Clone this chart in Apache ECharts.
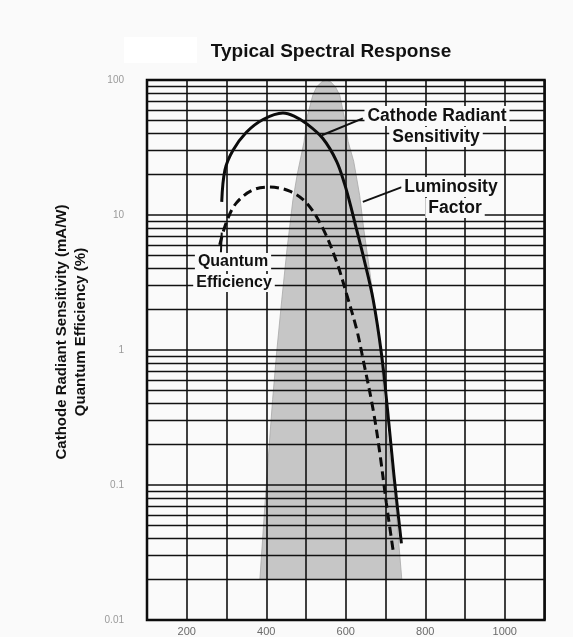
<!DOCTYPE html>
<html>
<head>
<meta charset="utf-8">
<script src="https://cdn.jsdelivr.net/npm/echarts@6/dist/echarts.min.js"></script>
<style>
html,body{margin:0;padding:0;background:#fafafa;}
#chart{width:573px;height:637px;}
</style>
</head>
<body>
<div id="chart"></div>
<script>
// ---- data ----
var xTickLabels = ['200', '400', '600', '800', '1000'];
var yTickLabels = ['0.01', '0.1', '1', '10', '100'];

// Cathode Radiant Sensitivity (mA/W) - solid
var crsX = [288, 296, 316, 350, 392, 442, 470, 502, 542, 577, 597, 611, 628, 645, 669, 690, 705, 721, 740];
var crsY = [12.5, 21.5, 30, 41, 51, 57, 54, 47.3, 37, 25, 17.0, 12.1, 7.65, 4.83, 2.36, 0.93, 0.363, 0.12, 0.037];

// Quantum Efficiency (%) - dashed
var qeX = [283, 300, 325, 366, 409, 459, 501, 542, 577, 602, 628, 644, 669, 686, 702, 719];
var qeY = [6.0, 8.9, 12.3, 15.3, 16.1, 15.0, 12.3, 8.0, 4.5, 2.6, 1.4, 0.84, 0.36, 0.17, 0.074, 0.033];

// Luminosity Factor - shaded outline (left edge going up, right edge going down)
var lumX = [384, 400, 416, 426, 439, 452, 467, 478, 495, 504, 517, 527, 540, 551, 562, 574, 585, 597, 606, 620, 635, 645, 660, 686, 702, 723, 741];
var lumY = [0.02, 0.1, 0.43, 0.95, 2.35, 5.5, 12.9, 20, 34.7, 55, 77, 89, 97, 100, 97, 89, 77, 52, 35, 25, 14, 8, 3.9, 1.05, 0.27, 0.087, 0.02];

// log-paper minor grid values
var minorGrid = [];
[0.01, 0.1, 1, 10].forEach(function (d) {
  for (var m = 2; m <= 9; m++) minorGrid.push(+(d * m).toPrecision(3));
});

function pairs(xs, ys) { return xs.map(function (x, i) { return [x, ys[i]]; }); }

var chart = echarts.init(document.getElementById('chart'));
var FONT = 'Liberation Sans, Arial, sans-serif';

var option = {
  backgroundColor: '#fafafa',
  animation: false,
  grid: { left: 147, right: 28.5, top: 80, bottom: 16, show: true, borderColor: '#000', borderWidth: 2.5, backgroundColor: 'transparent' },
  xAxis: {
    type: 'value', min: 100, max: 1100, interval: 100,
    axisLine: { show: false }, axisTick: { show: false },
    splitLine: { show: true, lineStyle: { color: '#111', width: 1.6 } },
    axisLabel: {
      margin: 6, color: '#6a6a6a', fontSize: 11, fontFamily: FONT,
      formatter: function (v) { return xTickLabels.indexOf(String(v)) >= 0 ? String(v) : ''; }
    }
  },
  yAxis: {
    type: 'log', min: 0.01, max: 100, logBase: 10,
    axisLine: { show: false }, axisTick: { show: false },
    splitLine: { show: true, lineStyle: { color: '#111', width: 1.6 } },
    axisLabel: {
      margin: 23, color: '#9a9a9a', fontSize: 10, fontFamily: FONT,
      formatter: function (v) {
        for (var i = 0; i < yTickLabels.length; i++) if (Math.abs(parseFloat(yTickLabels[i]) - v) / v < 1e-6) return yTickLabels[i];
        return '';
      }
    }
  },
  series: [
    {
      type: 'custom', name: 'Luminosity Factor', z: -1, silent: true,
      data: pairs(lumX, lumY),
      renderItem: function (params, api) {
        if (params.dataIndex !== 0) return null;
        var pts = lumX.map(function (x, i) { return api.coord([x, lumY[i]]); });
        return { type: 'polygon', shape: { points: pts }, style: { fill: '#c6c6c6', stroke: '#a8a8a8', lineWidth: 0.8 } };
      }
    },
    {
      type: 'line', name: 'grid', z: 1, data: [], silent: true,
      markLine: {
        silent: true, symbol: ['none', 'none'], label: { show: false }, animation: false,
        lineStyle: { color: '#111', width: 1.4, type: 'solid' },
        emphasis: { disabled: true },
        data: minorGrid.map(function (v) { return { yAxis: v }; })
      }
    },
    {
      type: 'line', name: 'Cathode Radiant Sensitivity', z: 3, smooth: 0.35, showSymbol: false, silent: true,
      data: pairs(crsX, crsY),
      lineStyle: { color: '#0c0c0c', width: 3 }
    },
    {
      type: 'line', name: 'Quantum Efficiency', z: 3, smooth: 0.35, showSymbol: false, silent: true,
      data: pairs(qeX, qeY),
      lineStyle: { color: '#0c0c0c', width: 3, type: [9, 5] }
    }
  ]
};
chart.setOption(option);

function px(p) { return chart.convertToPixel({ gridIndex: 0 }, p); }
function leader(a, b) {
  var p = px(a), q = px(b);
  return { type: 'line', z: 10, shape: { x1: p[0], y1: p[1], x2: q[0], y2: q[1] }, style: { stroke: '#111', lineWidth: 2 } };
}
function label(text, x, y, size) {
  return {
    type: 'text', z: 11, x: x, y: y,
    style: { text: text, fill: '#111', font: 'bold ' + size + 'px ' + FONT, align: 'center', verticalAlign: 'middle',
      backgroundColor: '#fafafa', padding: [1, 3] }
  };
}

chart.setOption({
  graphic: [
    { type: 'rect', z: 5, shape: { x: 124, y: 37, width: 73, height: 26 }, style: { fill: '#ffffff' } },
    { type: 'text', z: 11, x: 331, y: 52, style: { text: 'Typical Spectral Response', fill: '#111', font: 'bold 19px ' + FONT, align: 'center', verticalAlign: 'middle' } },
    {
      type: 'text', z: 11, x: 71, y: 332, rotation: Math.PI / 2,
      style: { text: 'Cathode Radiant Sensitivity (mA/W)\nQuantum Efficiency (%)', fill: '#111', font: 'bold 15px ' + FONT,
        align: 'center', verticalAlign: 'middle', lineHeight: 19 }
    },
    leader([643, 52], [540, 39]),
    leader([741, 16.1], [643, 12.5]),
    leader([288, 7.4], [286, 5.3]),
    label('Cathode Radiant', 437, 116, 17.5),
    label('Sensitivity', 436, 137, 17.5),
    label('Luminosity', 451, 187, 17.5),
    label('Factor', 455, 208, 17.5),
    label('Quantum', 233, 262, 16),
    label('Efficiency', 234, 283, 16)
  ]
});
</script>
</body>
</html>
